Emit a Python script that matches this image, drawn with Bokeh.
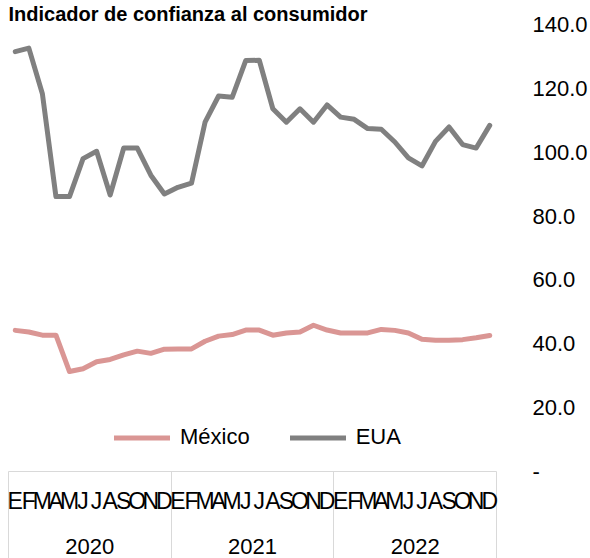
from bokeh.plotting import figure
from bokeh.models import (LinearAxis, FixedTicker, Range1d, Legend, LegendItem)
from bokeh.embed import file_html
from bokeh.resources import INLINE

# ---- data ----
months = ["E", "F", "M", "A", "M", "J", "J", "A", "S", "O", "N", "D"]
years = ["2020", "2021", "2022"]
mexico = [44.2, 43.7, 42.7, 42.7, 31.3, 32.2, 34.4, 35.1, 36.5, 37.7, 37.0, 38.3,
          38.4, 38.4, 40.8, 42.4, 42.9, 44.3, 44.3, 42.7, 43.4, 43.7, 45.8, 44.3,
          43.4, 43.4, 43.4, 44.5, 44.2, 43.4, 41.4, 41.1, 41.1, 41.3, 41.9, 42.6]
eua = [131.5, 132.6, 118.3, 86.1, 86.1, 98.0, 100.3, 86.6, 101.3, 101.3, 92.8, 86.9,
       89.0, 90.3, 109.4, 117.6, 117.2, 128.7, 128.8, 113.6, 109.4, 113.6, 109.4, 114.8,
       111.0, 110.3, 107.4, 107.2, 103.2, 98.2, 95.7, 103.4, 107.9, 102.4, 101.3, 108.4]
y_ticks = [0, 20, 40, 60, 80, 100, 120, 140]
title_text = "Indicador de confianza al consumidor"

n = len(months) * len(years)
x = list(range(n))

FONT = "Liberation Sans"
NARROW = "Liberation Sans Narrow, Liberation Sans"
TXT = "#000000"

p = figure(width=590, height=558, output_backend="svg", toolbar_location=None,
           x_range=Range1d(-0.5, n - 0.5), y_range=Range1d(0, 140),
           x_axis_location=None, y_axis_location=None,
           min_border_left=8, min_border_right=92, min_border_top=23, min_border_bottom=87,
           title=title_text)
p.title.text_font = FONT
p.title.text_font_style = "bold"
p.title.text_font_size = "20px"
p.title.text_color = TXT
p.title.align = "left"
p.title.standoff = 0
p.outline_line_color = None
p.grid.visible = False
p.background_fill_color = "white"
p.border_fill_color = "white"

# month axis; year separators drawn as long minor ticks
SEP = 90
boundaries = [-0.5 + 12 * k for k in range(len(years) + 1)]
max_ = LinearAxis(ticker=FixedTicker(ticks=x, minor_ticks=boundaries))
max_.major_label_overrides = {i: months[i % 12] for i in x}
max_.axis_line_color = "#D9D9D9"
max_.major_tick_line_color = None
max_.minor_tick_line_color = "#D9D9D9"
max_.minor_tick_in = 0
max_.minor_tick_out = SEP
max_.major_label_standoff = 16 - SEP
max_.major_label_text_font = NARROW
max_.major_label_text_font_size = "23px"
max_.major_label_text_color = TXT
p.add_layout(max_, "below")

# year axis
year_pos = [5.5 + 12 * k for k in range(len(years))]
yax = LinearAxis(ticker=FixedTicker(ticks=year_pos, minor_ticks=[]))
yax.major_label_overrides = {year_pos[k]: years[k] for k in range(len(years))}
yax.axis_line_color = None
yax.major_tick_line_color = None
yax.minor_tick_line_color = None
yax.major_label_standoff = 16
yax.major_label_text_font = FONT
yax.major_label_text_font_size = "22px"
yax.major_label_text_color = TXT
p.add_layout(yax, "below")

# right value axis
rax = LinearAxis(ticker=FixedTicker(ticks=y_ticks, minor_ticks=[]))
rax.major_label_overrides = {t: ("-" if t == 0 else f"{t:.1f}") for t in y_ticks}
rax.axis_line_color = None
rax.major_tick_line_color = None
rax.minor_tick_line_color = None
rax.major_label_standoff = 30
rax.major_label_text_font = FONT
rax.major_label_text_font_size = "22px"
rax.major_label_text_color = TXT
p.add_layout(rax, "right")

r_mx = p.line(x, mexico, line_color="#DA9694", line_width=5,
              line_join="round", line_cap="round")
r_us = p.line(x, eua, line_color="#808080", line_width=5,
              line_join="round", line_cap="round")

legend = Legend(items=[LegendItem(label="México", renderers=[r_mx]),
                       LegendItem(label="EUA", renderers=[r_us])],
                orientation="horizontal", location=(106, 21),
                glyph_width=56, glyph_height=25, label_standoff=10, spacing=40,
                padding=0, margin=0, border_line_color=None,
                background_fill_alpha=0, label_text_font=FONT,
                label_text_font_size="22px", label_text_color=TXT)
p.add_layout(legend)

open("out.html", "w").write(file_html(p, INLINE))
